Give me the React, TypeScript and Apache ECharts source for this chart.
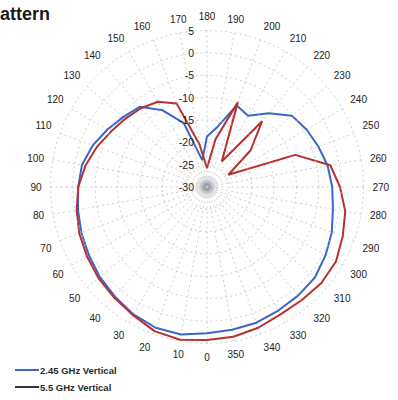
import React, { useEffect, useRef } from "react";
import * as echarts from "echarts";

// Angles (degrees, 0 at bottom, increasing clockwise: 90 left, 180 top, 270 right)
const angles = [0, 10, 20, 30, 40, 50, 60, 70, 80, 90, 100, 110, 120, 130, 140, 150, 160, 170,
  180, 190, 200, 210, 220, 230, 240, 250, 260, 270, 280, 290, 300, 310, 320, 330, 340, 350];

// 2.45 GHz Vertical (dB)
const blue245 = [2.7, 3.5, 3.5, 2.9, 2.0, 1.3, 0.5, -0.1, -0.7, -1.2, -1.6, -2.8, -4.3, -5.6, -6.6, -10.2, -14.8, -23.9,
  -18.7, -16.3, -10.6, -11.6, -8.5, -5.2, -4.3, -3.5, -2.6, -2.0, -1.4, -0.3, 0.6, 1.5, 1.7, 1.9, 2.3, 2.4];

// 5.5 GHz Vertical (dB)
const red55 = [4.2, 4.7, 4.3, 3.1, 2.3, 1.7, 1.0, 0.4, -0.4, -1.2, -2.4, -3.8, -5.2, -6.2, -7.0, -8.0, -10.1, -20.3,
  -25.8, -19.2, -9.8, -23.4, -10.8, -17.3, -24.5, -9.0, -2.0, -0.25, 1.4, 2.3, 3.3, 3.4, 3.0, 2.9, 3.5, 4.0];

const radiusTicks = { min: -30, max: 5, interval: 5 };
const seriesNames = ["2.45 GHz Vertical", "5.5 GHz Vertical"];
const titleText = "attern";

// ECharts polar: startAngle 90 (top). The top of this chart shows 180°.
const toAxisAngle = (a: number) => (a + 180) % 360;
const build = (vals: number[]) => {
  const pts = angles.map((a, i) => [vals[i], toAxisAngle(a)]);
  pts.push([vals[0], toAxisAngle(angles[0])]);
  return pts;
};

export default function App() {
  const ref = useRef<HTMLDivElement>(null);
  useEffect(() => {
    if (!ref.current) return;
    const chart = echarts.init(ref.current, null, { renderer: "svg" });
    const gridLine = { color: "#c2c2c2", type: [2, 3] as any, width: 0.8 };
    chart.setOption({
      animation: false,
      backgroundColor: "#ffffff",
      textStyle: { fontFamily: "Liberation Sans, Arial, sans-serif" },
      graphic: [
        {
          type: "text",
          left: 0,
          top: 5,
          z: 10,
          style: {
            text: titleText,
            fontSize: 18,
            fontWeight: "bold",
            fill: "#1a1a1a",
            fontFamily: "Liberation Sans, Arial, sans-serif",
          },
        },
        {
          type: "circle",
          shape: { cx: 207, cy: 187, r: 14 },
          z: 0,
          silent: true,
          style: {
            fill: new echarts.graphic.RadialGradient(0.5, 0.5, 0.5, [
              { offset: 0, color: "rgba(95,95,115,0.95)" },
              { offset: 0.45, color: "rgba(150,150,170,0.5)" },
              { offset: 1, color: "rgba(255,255,255,0)" },
            ]),
          },
        },
      ],
      legend: {
        orient: "vertical",
        left: 15,
        top: 364,
        padding: 0,
        icon: "rect",
        itemWidth: 24,
        itemHeight: 2,
        itemGap: 5,
        textStyle: {
          fontSize: 9.5,
          fontWeight: "bold",
          color: "#2a2a2a",
          lineHeight: 12,
          padding: [0, 0, 0, -4],
          fontFamily: "Liberation Sans Narrow, Liberation Sans, Arial, sans-serif",
        },
        data: [
          { name: seriesNames[0], itemStyle: { color: "#3a66c8" } },
          { name: seriesNames[1], itemStyle: { color: "#3a3030" } },
        ],
      },
      polar: { center: [207, 187], radius: 156.5 },
      angleAxis: {
        type: "value",
        min: 0,
        max: 360,
        interval: 10,
        startAngle: 90,
        clockwise: true,
        axisLine: { show: false },
        axisTick: { show: false },
        axisLabel: {
          margin: 9,
          fontSize: 10,
          color: "#222",
          formatter: (v: number) => String((v + 180) % 360),
        },
        splitLine: { show: true, lineStyle: gridLine },
      },
      radiusAxis: {
        type: "value",
        min: radiusTicks.min,
        max: radiusTicks.max,
        interval: radiusTicks.interval,
        axisLine: { show: false },
        axisTick: { show: false },
        axisLabel: { fontSize: 10.5, color: "#222", margin: 13 },
        splitLine: { show: true, lineStyle: gridLine },
        z: 5,
      },
      series: [
        {
          name: seriesNames[0],
          type: "line",
          coordinateSystem: "polar",
          showSymbol: false,
          symbol: "none",
          data: build(blue245),
          lineStyle: { color: "#3a66c8", width: 2 },
          itemStyle: { color: "#3a66c8" },
          z: 3,
        },
        {
          name: seriesNames[1],
          type: "line",
          coordinateSystem: "polar",
          showSymbol: false,
          symbol: "none",
          data: build(red55),
          lineStyle: { color: "#b8302e", width: 2 },
          itemStyle: { color: "#b8302e" },
          z: 4,
        },
      ],
    });
    return () => chart.dispose();
  }, []);
  return (
    <div
      ref={ref}
      style={{ position: "absolute", left: 0, top: 0, width: 398, height: 400 }}
    />
  );
}
